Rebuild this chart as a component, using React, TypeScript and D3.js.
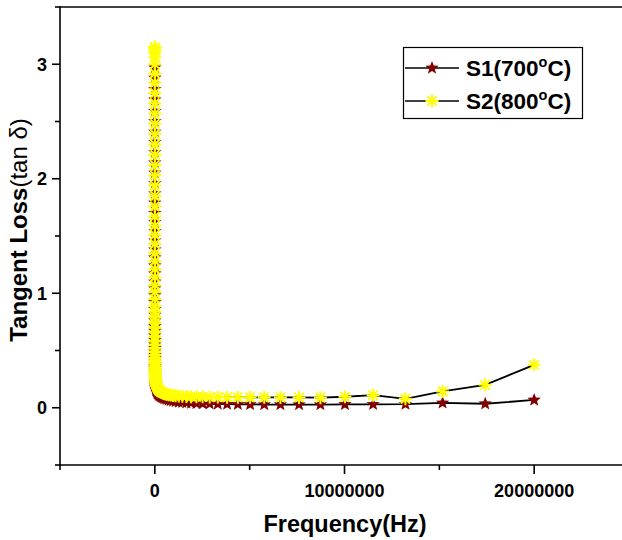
import React from "react";
import * as d3 from "d3";

const frequency: number[] = [
  20, 23, 26.4, 30.3, 34.8, 39.9, 45.8, 52.6, 60.4, 69.3,
  79.6, 91.4, 105, 120.5, 138.4, 158.9, 182.4, 209.4, 240.5, 276.1,
  317, 363.9, 417.9, 479.8, 550.8, 632.5, 726.2, 833.7, 957.3, 1099,
  1262, 1449, 1664, 1910, 2193, 2518, 2891, 3319, 3811, 4375,
  5024, 5768, 6623, 7604, 8730, 10024, 11509, 13213, 15172, 17419,
  20000, 22963, 26365, 30271, 34756, 39905, 45817, 52605, 60399, 69347,
  79621, 91418, 104961, 120512, 138366, 158866, 182402, 209425, 240452, 276077,
  316979, 363940, 417859, 479766, 550844, 632456, 726160, 833681, 957260, 1099080,
  1261910, 1448870, 1663520, 1910000, 2193000, 2517800, 2890800, 3319000, 3810000, 4375000,
  5023800, 5768000, 6622600, 7603800, 8730000, 10023800, 11508800, 13212800, 15171600, 17419200,
  20000000,
];

const s1: number[] = [
  2.97, 2.88, 2.78, 2.69, 2.59, 2.5, 2.41, 2.32, 2.23, 2.14,
  2.05, 1.96, 1.87, 1.79, 1.7, 1.62, 1.54, 1.46, 1.38, 1.31,
  1.24, 1.17, 1.1, 1.04, 0.98, 0.92, 0.86, 0.81, 0.76, 0.71,
  0.67, 0.63, 0.59, 0.55, 0.52, 0.49, 0.46, 0.43, 0.4, 0.38,
  0.36, 0.35, 0.34, 0.33, 0.32, 0.31, 0.295, 0.28, 0.265, 0.25,
  0.24, 0.23, 0.22, 0.21, 0.2, 0.19, 0.182, 0.175, 0.168, 0.161,
  0.155, 0.149, 0.143, 0.137, 0.131, 0.125, 0.119, 0.113, 0.108, 0.103,
  0.098, 0.093, 0.088, 0.083, 0.078, 0.074, 0.068, 0.063, 0.058, 0.054,
  0.05, 0.047, 0.044, 0.041, 0.038, 0.036, 0.034, 0.032, 0.031, 0.03,
  0.029, 0.028, 0.028, 0.028, 0.028, 0.029, 0.03, 0.031, 0.042, 0.035,
  0.068,
];

const s2: number[] = [
  3.15, 3.14, 3.12, 3.1, 3.06, 3.0, 2.92, 2.84, 2.75, 2.66,
  2.57, 2.48, 2.39, 2.3, 2.21, 2.12, 2.03, 1.94, 1.85, 1.76,
  1.67, 1.59, 1.51, 1.43, 1.35, 1.28, 1.21, 1.14, 1.07, 1.01,
  0.95, 0.89, 0.84, 0.79, 0.74, 0.7, 0.66, 0.62, 0.58, 0.55,
  0.52, 0.49, 0.46, 0.435, 0.41, 0.39, 0.37, 0.35, 0.335, 0.32,
  0.305, 0.29, 0.28, 0.27, 0.26, 0.25, 0.24, 0.23, 0.222, 0.214,
  0.206, 0.198, 0.19, 0.183, 0.176, 0.169, 0.162, 0.156, 0.15, 0.144,
  0.139, 0.134, 0.129, 0.125, 0.121, 0.117, 0.114, 0.111, 0.108, 0.105,
  0.103, 0.101, 0.099, 0.097, 0.096, 0.095, 0.094, 0.093, 0.092, 0.092,
  0.091, 0.091, 0.09, 0.09, 0.088, 0.096, 0.11, 0.078, 0.143, 0.2,
  0.375,
];

const seriesNames = ["S1(700", "S2(800"];
const xMajorTicks = [0, 10000000, 20000000];
const xMinorTicks = [-5000000, 5000000, 15000000];
const yMajorTicks = [0, 1, 2, 3];
const yMinorTicks = [-0.5, 0.5, 1.5, 2.5, 3.5];

const W = 622;
const H = 540;
const FONT = "'Liberation Sans', Arial, Helvetica, sans-serif";

function starPath(cx: number, cy: number, R: number, r: number): string {
  const pts: [number, number][] = [];
  for (let i = 0; i < 10; i++) {
    const a = -Math.PI / 2 + (i * Math.PI) / 5;
    const rad = i % 2 === 0 ? R : r;
    pts.push([cx + rad * Math.cos(a), cy + rad * Math.sin(a)]);
  }
  return "M" + pts.map((p) => p[0].toFixed(2) + "," + p[1].toFixed(2)).join("L") + "Z";
}

function asteriskPath(cx: number, cy: number, R: number): string {
  let d = "";
  for (let i = 0; i < 4; i++) {
    const a = (i * Math.PI) / 4;
    const dx = R * Math.cos(a);
    const dy = R * Math.sin(a);
    d += `M${(cx - dx).toFixed(2)},${(cy - dy).toFixed(2)}L${(cx + dx).toFixed(2)},${(cy + dy).toFixed(2)}`;
  }
  return d;
}

const S1_COLOR = "#800000";
const S2_COLOR = "#FFFF00";

export default function App() {
  const x = d3.scaleLinear().domain([-5000000, 25000000]).range([60, 629]);
  const y = d3.scaleLinear().domain([-0.5, 3.5]).range([465, 7]);

  const line = d3
    .line<number>()
    .x((_, i) => x(frequency[i]))
    .y((d) => y(d));

  const x0 = x(-5000000);
  const y0 = y(-0.5);

  return (
    <svg
      width={W}
      height={H}
      style={{ position: "absolute", left: 0, top: 0, background: "#fff" }}
      fontFamily={FONT}
    >
      <rect x={0} y={0} width={W} height={H} fill="#fff" />

      {/* data lines */}
      <path d={line(s1) || ""} fill="none" stroke="#000" strokeWidth={1.8} />
      <path d={line(s2) || ""} fill="none" stroke="#000" strokeWidth={1.8} />

      {/* S1 markers */}
      <g fill={S1_COLOR}>
        {s1.map((v, i) => (
          <path key={"a" + i} d={starPath(x(frequency[i]), y(v), 7, 3)} />
        ))}
      </g>
      {/* S2 markers */}
      <g stroke={S2_COLOR} strokeWidth={2} fill="none">
        {s2.map((v, i) => (
          <path key={"b" + i} d={asteriskPath(x(frequency[i]), y(v), 6.5)} />
        ))}
      </g>

      {/* frame / axes */}
      <line x1={x0} y1={y(3.5)} x2={x(25000000)} y2={y(3.5)} stroke="#000" strokeWidth={1.6} />
      <line x1={x0} y1={y(3.5) - 0.8} x2={x0} y2={y0 + 0.8} stroke="#000" strokeWidth={1.6} />
      <line x1={x0 - 0.8} y1={y0} x2={x(25000000)} y2={y0} stroke="#000" strokeWidth={1.6} />

      {/* x ticks */}
      {xMajorTicks.map((t) => (
        <line key={"xm" + t} x1={x(t)} x2={x(t)} y1={y0} y2={y0 + 9} stroke="#000" strokeWidth={1.6} />
      ))}
      {xMinorTicks.map((t) => (
        <line key={"xn" + t} x1={x(t)} x2={x(t)} y1={y0} y2={y0 + 5} stroke="#000" strokeWidth={1.6} />
      ))}
      {xMajorTicks.map((t) => (
        <text key={"xl" + t} x={x(t)} y={497} textAnchor="middle" fontSize={18} fontWeight="bold">
          {String(t)}
        </text>
      ))}

      {/* y ticks */}
      {yMajorTicks.map((t) => (
        <line key={"ym" + t} x1={x0 - 8} x2={x0} y1={y(t)} y2={y(t)} stroke="#000" strokeWidth={1.6} />
      ))}
      {yMinorTicks.map((t) => (
        <line key={"yn" + t} x1={x0 - 5} x2={x0} y1={y(t)} y2={y(t)} stroke="#000" strokeWidth={1.6} />
      ))}
      {yMajorTicks.map((t) => (
        <text key={"yl" + t} x={47} y={y(t) + 6.5} textAnchor="end" fontSize={18} fontWeight="bold">
          {String(t)}
        </text>
      ))}

      {/* axis titles */}
      <text x={345} y={532} textAnchor="middle" fontSize={23.5} fontWeight="bold">
        Frequency(Hz)
      </text>
      <text transform="translate(27,230) rotate(-90)" textAnchor="middle" fontSize={24}>
        <tspan fontWeight="bold">Tangent Loss</tspan>
        <tspan>(tan δ)</tspan>
      </text>

      {/* legend */}
      <rect x={403.5} y={47.5} width={179} height={71} fill="#fff" stroke="#000" strokeWidth={1.2} />
      {[0, 1].map((i) => {
        const cy = i === 0 ? 68 : 101;
        return (
          <g key={"lg" + i}>
            <line x1={405} x2={459} y1={cy} y2={cy} stroke="#000" strokeWidth={1.5} />
            {i === 0 ? (
              <path d={starPath(432, cy, 7, 3)} fill={S1_COLOR} />
            ) : (
              <path d={asteriskPath(432, cy, 6.5)} stroke={S2_COLOR} strokeWidth={2} fill="none" />
            )}
            <text x={466} y={cy + 8} fontSize={22.5} fontWeight="bold">
              {seriesNames[i]}
              <tspan dy={-9.5} fontSize={14.5}>o</tspan>
              <tspan dy={9.5}>C)</tspan>
            </text>
          </g>
        );
      })}
    </svg>
  );
}
